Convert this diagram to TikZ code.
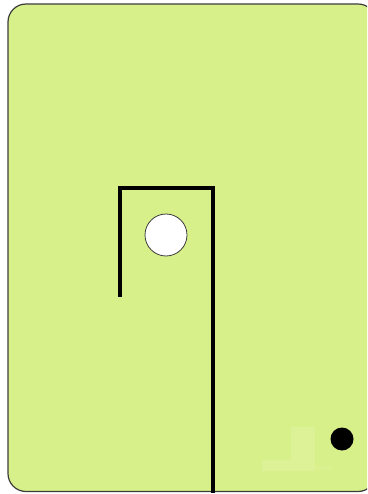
\documentclass[tikz,border=0pt]{standalone}
\definecolor{cardgreen}{RGB}{216,240,138}
\definecolor{faintgreen}{RGB}{221,242,150}
\definecolor{edgegrey}{RGB}{60,60,60}
\begin{document}
\begin{tikzpicture}[x=1pt,y=-1pt,
  bracket/.style={line width=3.6pt,line cap=rect},
  card/.style={fill=cardgreen,draw=edgegrey,line width=1.2pt,rounded corners=18pt}]
\useasboundingbox (0,0) rectangle (367,494);
\begin{scope}
\clip (0,0) rectangle (367,494);
\draw[card] (8,4) rectangle (376,491.5);
\fill[faintgreen] (291,427) rectangle (315,460);
\fill[faintgreen] (262,460) rectangle (315,471);
\fill[faintgreen!50!cardgreen] (315,466) rectangle (332,470);
\draw[bracket] (120,295) -- (120,188) -- (213,188) -- (213,491);
\end{scope}
\draw[fill=white,draw=edgegrey,line width=0.8pt] (166,235) circle (21);
\fill[black] (342,439) circle (11.5);
\end{tikzpicture}
\end{document}
